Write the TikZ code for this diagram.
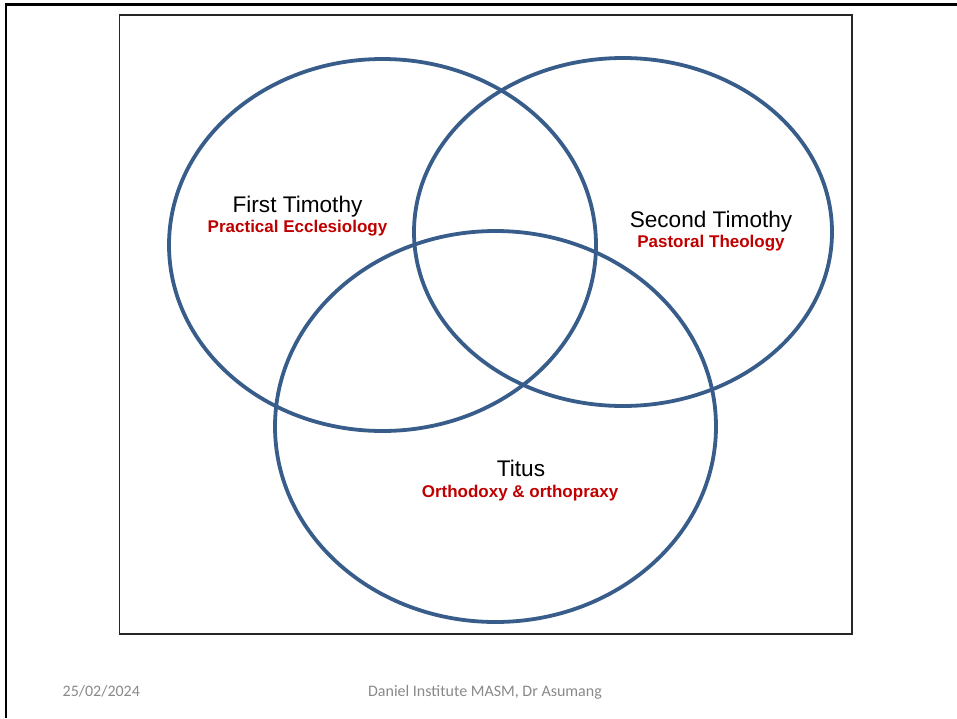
\documentclass[tikz,border=0pt]{standalone}
\usepackage{fontspec}
\setmainfont{Liberation Sans}
\newfontfamily\calibri{Carlito}
\definecolor{vennblue}{RGB}{56,93,138}
\definecolor{darkred}{RGB}{192,0,0}
\definecolor{footgray}{RGB}{137,137,137}
\begin{document}
\begin{tikzpicture}[x=1pt,y=-1pt,
  venn/.style={draw=vennblue,line width=3.8pt},
  title/.style={anchor=base,inner sep=0pt,font=\fontsize{22.6}{26}\selectfont,text=black},
  sub/.style={anchor=base,inner sep=0pt,font=\fontsize{17}{20}\selectfont\bfseries,text=darkred},
  foot/.style={anchor=base,inner sep=0pt,font=\calibri\fontsize{16}{19}\selectfont,text=footgray}]
\useasboundingbox (0,0) rectangle (957,718);
% slide border
\draw[black,line width=2.7pt] (6.3,4.7) -- (957,4.7);
\draw[black,line width=2pt] (6.3,3.4) -- (6.3,718);
% inner frame
\draw[black!85,line width=1.6pt] (119.5,14.8) rectangle (851.8,634);
% ellipses
\draw[venn] (382.5,245) ellipse [x radius=213.5pt, y radius=186pt];
\draw[venn] (623,232) ellipse [x radius=209pt, y radius=174pt];
\draw[venn] (495.5,426.5) ellipse [x radius=220.5pt, y radius=195.5pt];
% labels
\node[title] (t1) at (297.5,212) {First Timothy};
\node[sub] (s1) at (297.5,232) {Practical Ecclesiology};
\node[title] (t2) at (711,227.5) {Second Timothy};
\node[sub] (s2) at (711,247.5) {Pastoral Theology};
\node[title] (t3) at (521,476) {Titus};
\node[sub] (s3) at (520,497) {Orthodoxy \& orthopraxy};
% footer
\node[foot,anchor=base west] (date) at (62.5,696.5) {25/02/2024};
\node[foot] (author) at (485,696.5) {Daniel Institute MASM, Dr Asumang};
\end{tikzpicture}
\end{document}
